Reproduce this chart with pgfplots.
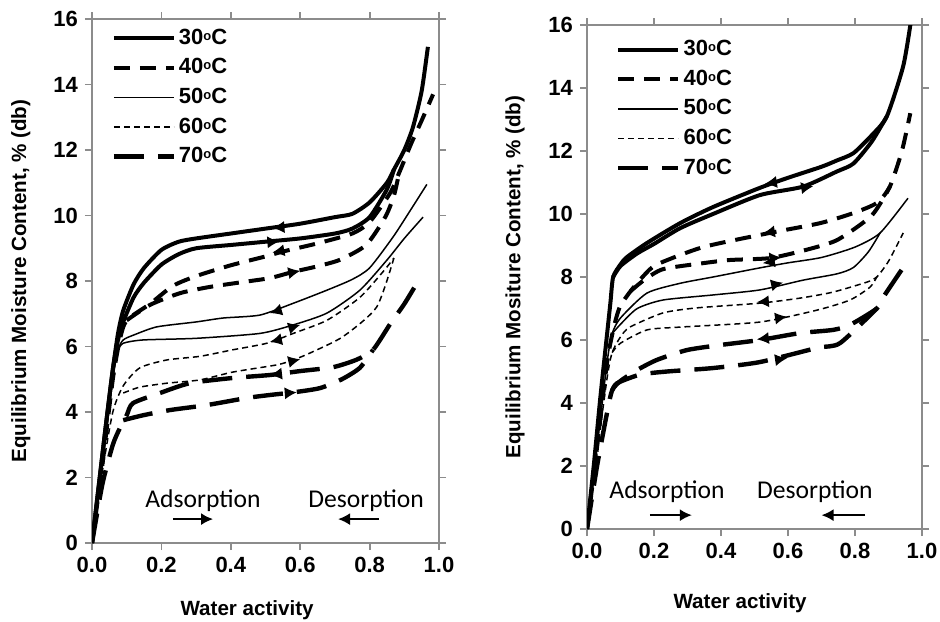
\documentclass[border=0pt]{standalone}
\usepackage{pgfplots}
\pgfplotsset{compat=1.18}
\usepackage{fontspec}
\setmainfont{Liberation Sans}
\newfontfamily\carl{Carlito}
\usetikzlibrary{arrows.meta}

\newcommand{\dg}{\raisebox{0.35ex}{\fontsize{6.5}{6.5}\selectfont o}}

\pgfplotsset{
  t30/.style={black, line width=2pt, solid},
  t40/.style={black, line width=2pt, dash pattern=on 8pt off 5pt},
  t50/.style={black, line width=0.75pt, solid},
  t60/.style={black, line width=0.75pt, dash pattern=on 3pt off 2pt},
  t70/.style={black, line width=2.2pt, dash pattern=on 15pt off 7pt},
  hd/.style={black, line width=0.6pt, solid, -{Latex[length=6pt,width=6pt]}, forget plot},
  ann/.style={black, line width=1pt, solid, -{Latex[length=6pt,width=6pt]}, forget plot},
  iso/.style={
    scale only axis,
    xmin=0, xmax=1, ymin=0, ymax=16,
    xtick={0,0.2,...,1.0}, ytick={0,2,...,16},
    tick align=outside, major tick length=3.5pt,
    axis line style={draw=gray!90, line width=0.9pt},
    every tick/.style={draw=gray!90, line width=0.9pt},
    tick label style={font=\bfseries\fontsize{11}{13}\selectfont},
    /pgf/number format/assume math mode=true,
    xticklabel style={/pgf/number format/.cd, fixed, fixed zerofill, precision=1},
    yticklabel style={/pgf/number format/.cd, fixed, precision=0},
    label style={font=\bfseries\fontsize{10.3}{12}\selectfont},
    legend cell align=left,
    legend style={draw=none, fill=none, font=\bfseries\fontsize{11}{13}\selectfont, row sep=2.6pt,
      nodes={inner sep=1.5pt}},
    legend image code/.code={\draw[##1] (0pt,0pt) -- (30pt,0pt);},
    every axis plot/.append style={smooth, tension=0.4},
  },
}

\begin{document}
\begin{tikzpicture}
\path[use as bounding box] (0,0) rectangle (470pt,-310.5pt);

% ---------------- left panel ----------------
\begin{axis}[iso, at={(46pt,-271.5pt)}, anchor=south west, width=173.5pt, height=262pt,
  xlabel={Water activity}, ylabel={Equilibrium Moisture Content, \% (db)},
  xlabel style={at={(axis description cs:0.447,-0.128)}, anchor=center},
  ylabel style={at={(axis description cs:-0.205,0.5)}, anchor=center},
  legend style={at={(0.038,0.995)}, anchor=north west}]
\addlegendimage{t30}\addlegendentry{30\dg C}
\addlegendimage{t40}\addlegendentry{40\dg C}
\addlegendimage{t50}\addlegendentry{50\dg C}
\addlegendimage{t60}\addlegendentry{60\dg C}
\addlegendimage{t70}\addlegendentry{70\dg C}
% 30 C
\addplot[t30, forget plot] coordinates {(0,0)(0.02,1.8)(0.04,3.6)(0.06,5.3)(0.075,6.4)(0.09,7.1)(0.12,7.9)(0.15,8.4)(0.2,8.95)(0.25,9.2)(0.3,9.3)(0.4,9.45)(0.5,9.6)(0.6,9.75)(0.7,9.95)(0.75,10.05)(0.8,10.4)(0.85,11.0)(0.87,11.4)(0.9,12.0)(0.925,12.7)(0.95,13.8)(0.968,15.15)};
\addplot[t30, forget plot] coordinates {(0,0)(0.02,1.8)(0.04,3.6)(0.06,5.3)(0.075,6.2)(0.09,6.75)(0.12,7.5)(0.15,7.95)(0.2,8.5)(0.25,8.82)(0.3,9.0)(0.4,9.1)(0.5,9.2)(0.6,9.3)(0.7,9.45)(0.75,9.6)(0.8,9.95)(0.85,10.8)(0.87,11.4)};
% 40 C
\addplot[t40, forget plot] coordinates {(0,0)(0.03,2.4)(0.06,5.0)(0.08,6.2)(0.1,6.8)(0.167,7.3)(0.233,7.85)(0.3,8.15)(0.4,8.48)(0.5,8.75)(0.55,8.9)(0.65,9.15)(0.75,9.45)(0.8,9.8)(0.86,10.7)(0.885,11.3)(0.92,12.2)(0.95,12.9)(0.983,13.7)};
\addplot[t40, forget plot] coordinates {(0.1,6.8)(0.167,7.27)(0.254,7.63)(0.34,7.82)(0.436,7.97)(0.513,8.09)(0.58,8.28)(0.65,8.45)(0.715,8.65)(0.79,9.1)(0.845,9.95)(0.87,10.6)(0.885,11.3)};
% 50 C
\addplot[t50, forget plot] coordinates {(0,0)(0.03,2.4)(0.06,5.0)(0.075,5.9)(0.09,6.2)(0.12,6.35)(0.187,6.6)(0.3,6.75)(0.378,6.87)(0.484,6.96)(0.58,7.32)(0.677,7.72)(0.75,8.05)(0.8,8.4)(0.868,9.35)(0.92,10.2)(0.965,10.95)};
\addplot[t50, forget plot] coordinates {(0.075,5.9)(0.09,6.1)(0.147,6.2)(0.3,6.25)(0.484,6.4)(0.58,6.66)(0.677,7.02)(0.772,7.72)(0.85,8.64)(0.9,9.3)(0.954,9.95)};
% 60 C
\addplot[t60, forget plot] coordinates {(0,0)(0.03,2.2)(0.06,4.0)(0.09,4.8)(0.138,5.35)(0.216,5.59)(0.311,5.7)(0.406,5.9)(0.504,6.1)(0.58,6.4)(0.677,6.8)(0.772,7.5)(0.84,8.3)(0.87,8.7)};
\addplot[t60, forget plot] coordinates {(0.09,4.58)(0.138,4.76)(0.216,4.88)(0.311,4.98)(0.406,5.22)(0.533,5.44)(0.58,5.59)(0.628,5.8)(0.723,6.3)(0.82,7.2)(0.87,8.7)};
% 70 C
\addplot[t70, forget plot] coordinates {(0,0)(0.03,1.8)(0.06,3.0)(0.08,3.5)(0.1,3.9)(0.118,4.27)(0.196,4.58)(0.282,4.88)(0.406,5.04)(0.513,5.13)(0.6,5.25)(0.695,5.37)(0.763,5.6)(0.81,5.9)(0.86,6.7)(0.9,7.3)(0.94,8.0)};
\addplot[t70, forget plot] coordinates {(0.09,3.75)(0.147,3.9)(0.225,4.06)(0.33,4.21)(0.447,4.43)(0.513,4.52)(0.58,4.6)(0.657,4.73)(0.72,5.0)(0.772,5.35)(0.81,5.9)};
% direction arrows
\addplot[hd] coordinates {(0.545,9.64)(0.52,9.62)};
\addplot[hd] coordinates {(0.515,9.19)(0.54,9.21)};
\addplot[hd] coordinates {(0.545,8.92)(0.52,8.87)};
\addplot[hd] coordinates {(0.575,8.26)(0.6,8.31)};
\addplot[hd] coordinates {(0.538,7.1)(0.513,7.02)};
\addplot[hd] coordinates {(0.575,6.58)(0.6,6.66)};
\addplot[hd] coordinates {(0.538,6.2)(0.513,6.14)};
\addplot[hd] coordinates {(0.575,5.55)(0.6,5.61)};
\addplot[hd] coordinates {(0.538,5.16)(0.513,5.13)};
\addplot[hd] coordinates {(0.565,4.58)(0.59,4.6)};
\node[font=\carl\fontsize{12.8}{14}\selectfont] at (axis cs:0.32,1.28) {Adsorption};
\node[font=\carl\fontsize{12.8}{14}\selectfont] at (axis cs:0.79,1.28) {Desorption};
\addplot[ann] coordinates {(0.233,0.73)(0.349,0.73)};
\addplot[ann] coordinates {(0.827,0.73)(0.709,0.73)};
\end{axis}

% ---------------- right panel ----------------
\begin{axis}[iso, at={(293.5pt,-264.5pt)}, anchor=south west, width=167.5pt, height=252pt,
  xlabel={Water activity}, ylabel={Equilibrium Mositure Content, \% (db)},
  xlabel style={at={(axis description cs:0.457,-0.147)}, anchor=center},
  ylabel style={at={(axis description cs:-0.215,0.5)}, anchor=center},
  legend style={at={(0.068,0.984)}, anchor=north west}]
\addlegendimage{t30}\addlegendentry{30\dg C}
\addlegendimage{t40}\addlegendentry{40\dg C}
\addlegendimage{t50}\addlegendentry{50\dg C}
\addlegendimage{t60}\addlegendentry{60\dg C}
\addlegendimage{t70}\addlegendentry{70\dg C}
% 30 C
\addplot[t30, forget plot] coordinates {(0,0)(0.02,2.0)(0.04,4.2)(0.06,6.2)(0.07,7.2)(0.078,8.0)(0.1,8.4)(0.119,8.63)(0.179,9.08)(0.278,9.71)(0.376,10.22)(0.516,10.83)(0.6,11.15)(0.7,11.5)(0.746,11.7)(0.795,11.93)(0.85,12.5)(0.895,13.1)(0.944,14.7)(0.968,16.2)};
\addplot[t30, forget plot] coordinates {(0.078,8.0)(0.1,8.35)(0.15,8.75)(0.2,9.05)(0.278,9.55)(0.376,10.0)(0.516,10.6)(0.645,10.87)(0.746,11.35)(0.795,11.6)(0.85,12.3)(0.895,13.1)};
% 40 C
\addplot[t40, forget plot] coordinates {(0,0)(0.03,2.6)(0.06,5.3)(0.08,6.4)(0.098,7.05)(0.13,7.55)(0.17,8.05)(0.209,8.4)(0.347,8.95)(0.546,9.4)(0.696,9.71)(0.795,10.03)(0.865,10.35)(0.904,10.87)(0.94,12.0)(0.965,13.2)};
\addplot[t40, forget plot] coordinates {(0.13,7.55)(0.17,7.9)(0.227,8.25)(0.347,8.44)(0.427,8.54)(0.546,8.6)(0.65,8.85)(0.746,9.17)(0.845,9.9)(0.885,10.5)(0.904,10.87)};
% 50 C
\addplot[t50, forget plot] coordinates {(0,0)(0.03,2.6)(0.06,5.3)(0.075,6.2)(0.1,6.7)(0.179,7.49)(0.278,7.8)(0.376,8.0)(0.516,8.29)(0.6,8.45)(0.7,8.62)(0.8,8.95)(0.875,9.4)(0.958,10.5)};
\addplot[t50, forget plot] coordinates {(0.075,6.2)(0.1,6.5)(0.15,7.0)(0.227,7.27)(0.376,7.43)(0.516,7.59)(0.645,7.9)(0.746,8.1)(0.795,8.3)(0.84,8.8)(0.875,9.4)};
% 60 C
\addplot[t60, forget plot] coordinates {(0,0)(0.03,2.4)(0.06,4.8)(0.075,5.6)(0.1,6.1)(0.128,6.41)(0.227,6.86)(0.328,7.02)(0.516,7.17)(0.636,7.33)(0.734,7.52)(0.836,7.84)(0.865,8.0)(0.9,8.5)(0.944,9.4)};
\addplot[t60, forget plot] coordinates {(0.075,5.6)(0.1,5.9)(0.179,6.32)(0.278,6.41)(0.516,6.57)(0.687,6.95)(0.785,7.27)(0.845,7.68)(0.865,8.0)};
% 70 C
\addplot[t70, forget plot] coordinates {(0,0)(0.03,2.0)(0.06,3.7)(0.075,4.4)(0.1,4.7)(0.15,5.05)(0.209,5.37)(0.298,5.68)(0.397,5.84)(0.516,6.0)(0.636,6.22)(0.734,6.32)(0.785,6.48)(0.865,7.0)(0.885,7.37)(0.95,8.4)};
\addplot[t70, forget plot] coordinates {(0.075,4.4)(0.09,4.63)(0.158,4.9)(0.239,5.0)(0.376,5.11)(0.516,5.3)(0.687,5.75)(0.755,5.9)(0.865,7.0)};
% direction arrows
\addplot[hd] coordinates {(0.556,11.0)(0.531,10.96)};
\addplot[hd] coordinates {(0.65,10.84)(0.675,10.88)};
\addplot[hd] coordinates {(0.55,9.43)(0.525,9.39)};
\addplot[hd] coordinates {(0.555,8.6)(0.58,8.62)};
\addplot[hd] coordinates {(0.55,8.48)(0.525,8.44)};
\addplot[hd] coordinates {(0.56,7.76)(0.585,7.82)};
\addplot[hd] coordinates {(0.532,7.22)(0.507,7.2)};
\addplot[hd] coordinates {(0.572,6.7)(0.597,6.74)};
\addplot[hd] coordinates {(0.532,6.05)(0.507,6.02)};
\addplot[hd] coordinates {(0.572,5.38)(0.597,5.42)};
\node[font=\carl\fontsize{12.8}{14}\selectfont] at (axis cs:0.239,1.17) {Adsorption};
\node[font=\carl\fontsize{12.8}{14}\selectfont] at (axis cs:0.68,1.17) {Desorption};
\addplot[ann] coordinates {(0.188,0.44)(0.313,0.44)};
\addplot[ann] coordinates {(0.83,0.44)(0.70,0.44)};
\end{axis}
\end{tikzpicture}
\end{document}
